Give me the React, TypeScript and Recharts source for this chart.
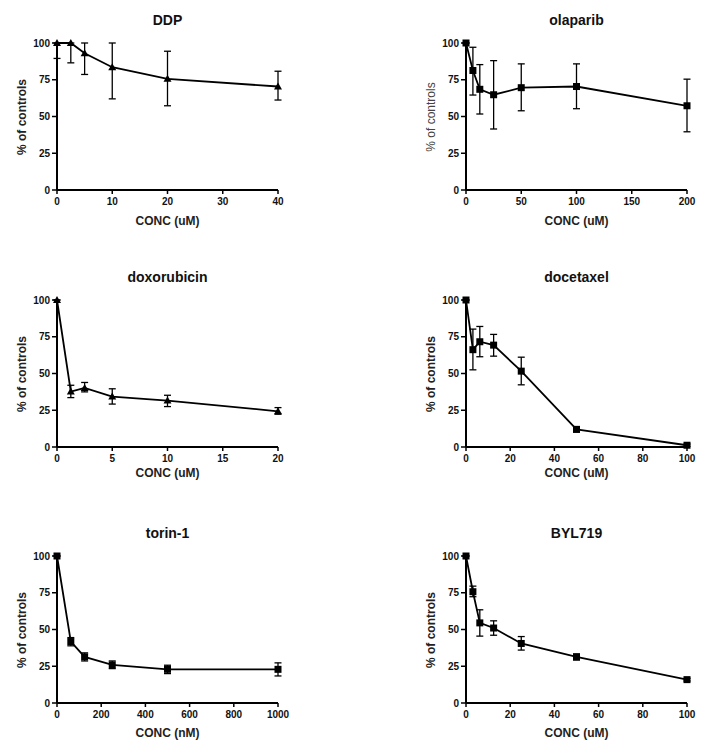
import { LineChart, Line, XAxis, YAxis, ErrorBar } from "recharts"

// each panel: concentration, mean % of controls, lower / upper error bounds
const ddpConc = [0, 2.5, 5, 10, 20, 40]
const ddpMean = [100, 100, 93, 83.5, 75.6, 70.4]
const ddpLow = [89.5, 86.5, 78.6, 62, 57.3, 61.2]
const ddpHigh = [100, 100, 100, 100, 94.4, 80.8]

const olaConc = [0, 6.25, 12.5, 25, 50, 100, 200]
const olaMean = [100, 81.3, 68.5, 64.8, 69.6, 70.4, 57.3]
const olaLow = [100, 64.6, 51.7, 41.5, 53.9, 55.3, 39.6]
const olaHigh = [100, 97.1, 85.3, 88, 85.8, 85.8, 75.4]

const doxConc = [0, 1.25, 2.5, 5, 10, 20]
const doxMean = [100, 37.7, 40.2, 34.3, 31.6, 24.3]
const doxLow = [100, 33.6, 37.5, 29.2, 27.5, 22.3]
const doxHigh = [100, 42, 43.9, 39.6, 35.2, 26.8]

const docConc = [0, 3.125, 6.25, 12.5, 25, 50, 100]
const docMean = [100, 66.2, 71.6, 69.3, 51.6, 12, 1.2]
const docLow = [100, 52.5, 61.4, 61.8, 42.3, 10.2, 0.4]
const docHigh = [100, 80.2, 82, 76.6, 61.1, 13.8, 2]

const torConc = [0, 62.5, 125, 250, 500, 1000]
const torMean = [100, 41.8, 31.4, 25.9, 22.9, 22.9]
const torLow = [100, 38.9, 28.6, 23.4, 20, 18.4]
const torHigh = [100, 44.5, 34.1, 28.6, 25.7, 27.3]

const bylConc = [0, 3.125, 6.25, 12.5, 25, 50, 100]
const bylMean = [100, 75.7, 54.5, 51, 40.5, 31.3, 15.9]
const bylLow = [100, 72.3, 45.5, 46.1, 36, 29.3, 15]
const bylHigh = [100, 79.5, 63.4, 55.9, 45.2, 33.4, 16.8]

const yTicks = [0, 25, 50, 75, 100]
const ddpTicks = [0, 10, 20, 30, 40]
const olaTicks = [0, 50, 100, 150, 200]
const doxTicks = [0, 5, 10, 15, 20]
const hundredTicks = [0, 20, 40, 60, 80, 100]
const torTicks = [0, 200, 400, 600, 800, 1000]

// plot-area pixel boxes
const colLeft = [57, 466]
const plotW = 221
const rowTop = [43, 300, 556]
const plotH = 147
const xLabelGap = [31, 26, 30]

type Shape = "triangle" | "square"

function build(conc: number[], mean: number[], low: number[], high: number[]) {
  return conc.map((c, i) => ({
    conc: c,
    mean: mean[i],
    err: [mean[i] - low[i], high[i] - mean[i]],
  }))
}

const dot = (shape: Shape) => (p: any) => {
  const { cx, cy, index } = p
  if (shape === "triangle") {
    return <polygon key={index} points={`${cx},${cy - 4} ${cx - 4},${cy + 3} ${cx + 4},${cy + 3}`} fill="#000" />
  }
  return <rect key={index} x={cx - 3.5} y={cy - 3.5} width={7} height={7} fill="#000" />
}

const tickStyle = { fontSize: 10, fontWeight: 700, fill: "#111" }

function Panel(props: {
  title: string
  col: number
  row: number
  conc: number[]
  mean: number[]
  low: number[]
  high: number[]
  ticks: number[]
  unit: string
  shape: Shape
  lightYLabel?: boolean
}) {
  const { title, col, row, ticks, unit, shape, lightYLabel } = props
  const left = colLeft[col]
  const top = rowTop[row]
  const data = build(props.conc, props.mean, props.low, props.high)
  const cx = left + plotW / 2
  return (
    <>
      <div style={{ position: "absolute", left: cx, top: top - 23, transform: "translate(-50%,-50%)", fontSize: 14, fontWeight: 700, color: "#111", whiteSpace: "nowrap", lineHeight: 1 }}>
        {title}
      </div>
      <div
        style={{
          position: "absolute",
          left: left - 35,
          top: top + plotH / 2,
          transform: "translate(-50%,-50%) rotate(-90deg)",
          fontSize: 12,
          fontWeight: lightYLabel ? 400 : 700,
          color: lightYLabel ? "#444" : "#222",
          whiteSpace: "nowrap",
          lineHeight: 1,
        }}
      >
        % of controls
      </div>
      <div style={{ position: "absolute", left: cx, top: top + plotH + xLabelGap[row], transform: "translate(-50%,-50%)", fontSize: 12, fontWeight: 700, color: "#222", whiteSpace: "nowrap", lineHeight: 1 }}>
        {`CONC (${unit})`}
      </div>
      <div style={{ position: "absolute", left: left - 45, top: top - 10 }}>
        <LineChart width={plotW + 65} height={plotH + 35} data={data} margin={{ top: 10, right: 20, bottom: 0, left: 0 }}>
          <XAxis
            dataKey="conc"
            type="number"
            domain={[0, ticks[ticks.length - 1]]}
            ticks={ticks}
            interval={0}
            height={25}
            tick={tickStyle}
            tickSize={4}
            tickMargin={4}
            axisLine={{ stroke: "#000", strokeWidth: 2 }}
            tickLine={{ stroke: "#000", strokeWidth: 1.5 }}
          />
          <YAxis
            type="number"
            domain={[0, 100]}
            ticks={yTicks}
            interval={0}
            width={45}
            tick={tickStyle}
            tickSize={5}
            tickMargin={2}
            axisLine={{ stroke: "#000", strokeWidth: 2 }}
            tickLine={{ stroke: "#000", strokeWidth: 1.5 }}
          />
          <Line dataKey="mean" stroke="#000" strokeWidth={1.8} dot={dot(shape)} activeDot={false} isAnimationActive={false}>
            <ErrorBar dataKey="err" direction="y" width={3.5} stroke="#000" strokeWidth={1.3} isAnimationActive={false} />
          </Line>
        </LineChart>
      </div>
    </>
  )
}

export default function App() {
  return (
    <div style={{ position: "absolute", left: 0, top: 0, width: 708, height: 752, background: "#fff", fontFamily: "'Liberation Sans', Arial, sans-serif" }}>
      <Panel title="DDP" col={0} row={0} conc={ddpConc} mean={ddpMean} low={ddpLow} high={ddpHigh} ticks={ddpTicks} unit="uM" shape="triangle" />
      <Panel title="olaparib" col={1} row={0} conc={olaConc} mean={olaMean} low={olaLow} high={olaHigh} ticks={olaTicks} unit="uM" shape="square" lightYLabel />
      <Panel title="doxorubicin" col={0} row={1} conc={doxConc} mean={doxMean} low={doxLow} high={doxHigh} ticks={doxTicks} unit="uM" shape="triangle" />
      <Panel title="docetaxel" col={1} row={1} conc={docConc} mean={docMean} low={docLow} high={docHigh} ticks={hundredTicks} unit="uM" shape="square" />
      <Panel title="torin-1" col={0} row={2} conc={torConc} mean={torMean} low={torLow} high={torHigh} ticks={torTicks} unit="nM" shape="square" />
      <Panel title="BYL719" col={1} row={2} conc={bylConc} mean={bylMean} low={bylLow} high={bylHigh} ticks={hundredTicks} unit="uM" shape="square" />
    </div>
  )
}
